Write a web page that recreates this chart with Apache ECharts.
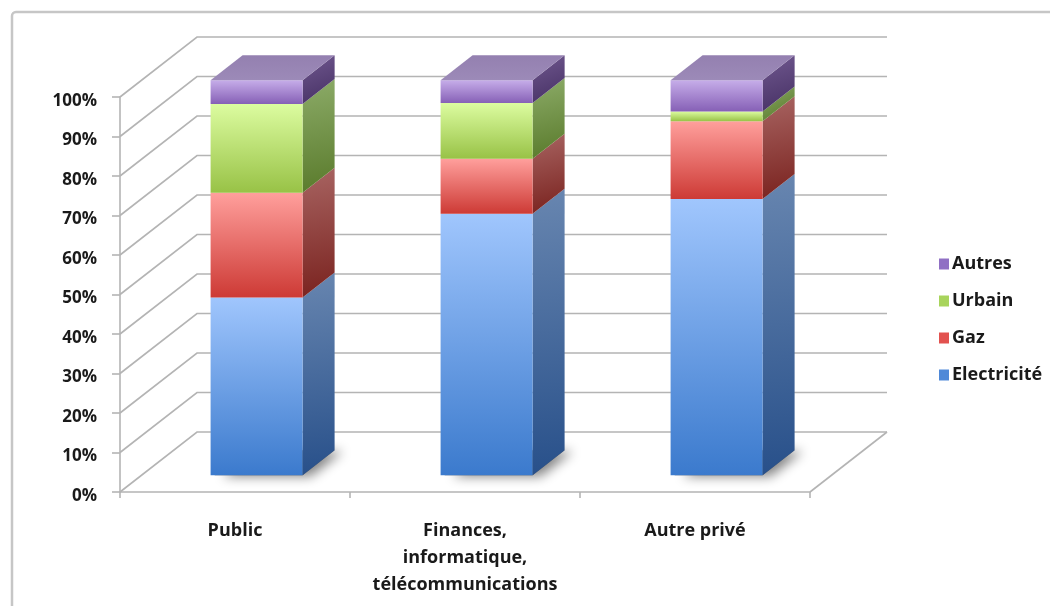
<!DOCTYPE html>
<html>
<head>
<meta charset="utf-8">
<script src="https://cdn.jsdelivr.net/npm/echarts@6/dist/echarts.min.js"></script>
<style>
  html, body { margin: 0; padding: 0; background: #ffffff; }
  #chart { width: 1050px; height: 606px; }
</style>
</head>
<body>
<div id="chart"></div>
<script>
// Energy mix by sector (shares in %)
const categories = ['Public', 'Finances,\ninformatique,\ntélécommunications', 'Autre privé'];
const electricite = [45.0, 66.2, 69.9];
const gaz = [26.5, 13.9, 19.7];
const urbain = [22.5, 14.1, 2.5];
const autres = [6.0, 5.8, 7.9];
const yTicks = [0, 10, 20, 30, 40, 50, 60, 70, 80, 90, 100];

const seriesNames = ['Electricité', 'Gaz', 'Urbain', 'Autres'];
const seriesValues = [electricite, gaz, urbain, autres];

// 3D look: depth of the back wall, offset of the bar front, bar depth
const WALL = [77, -60];
const BAR_OFF = [21.6, -16.8];
const BAR_DEPTH = [32, -25];
const BAR_RATIO = 0.4;

const palette = {
  'Electricité': { legend: '#4f89d8', front: ['#a0c6fd', '#3b7acd'], side: ['#6886b0', '#28508a'] },
  'Gaz':         { legend: '#e2524f', front: ['#ff9f9c', '#cd3a35'], side: ['#a86462', '#7a231f'] },
  'Urbain':      { legend: '#a8d45c', front: ['#dcfca0', '#98c246'], side: ['#8cab68', '#5a7b2c'] },
  'Autres':      { legend: '#9070c4', front: ['#c6ade9', '#8660b6'], side: ['#70588f', '#483266'] }
};

function grad(c) {
  return new echarts.graphic.LinearGradient(0, 0, 0, 1, [
    { offset: 0, color: c[0] }, { offset: 1, color: c[1] }
  ]);
}
function sideGrad(c) {
  return new echarts.graphic.LinearGradient(0, 0, 0.6, 1, [
    { offset: 0, color: c[0] }, { offset: 1, color: c[1] }
  ]);
}

// stacked segments [categoryIndex, low, high]
const stacked = seriesValues.map(() => []);
categories.forEach((c, i) => {
  let base = 0;
  seriesValues.forEach((vals, s) => {
    stacked[s].push([i, base, base + vals[i]]);
    base += vals[i];
  });
});

function topIndex(i) {
  let t = 0;
  seriesValues.forEach((vals, s) => { if (vals[i] > 0) t = s; });
  return t;
}

function makeBarRender(sIdx) {
  const name = seriesNames[sIdx];
  const col = palette[name];
  return function (params, api) {
    const cat = api.value(0), lo = api.value(1), hi = api.value(2);
    const pLo = api.coord([cat, lo]);
    const pHi = api.coord([cat, hi]);
    const band = api.size([1, 0])[0];
    const w = band * BAR_RATIO;
    const x0 = pLo[0] - w / 2 + BAR_OFF[0];
    const x1 = x0 + w;
    const yLo = pLo[1] + BAR_OFF[1];
    const yHi = pHi[1] + BAR_OFF[1];
    const dx = BAR_DEPTH[0], dy = BAR_DEPTH[1];
    const children = [];
    if (sIdx === 0) {
      // soft floor shadow under the bar
      children.push({
        type: 'polygon',
        shape: { points: [[x0 + 4, yLo], [x1, yLo], [x1 + dx, yLo + dy], [x0 + dx, yLo + dy]] },
        style: { fill: 'rgba(90,90,90,0.9)', shadowBlur: 12, shadowOffsetX: 8, shadowOffsetY: 1, shadowColor: 'rgba(0,0,0,0.55)' },
        z2: 0
      });
    }
    children.push({
      type: 'polygon',
      shape: { points: [[x1, yLo], [x1, yHi], [x1 + dx, yHi + dy], [x1 + dx, yLo + dy]] },
      style: { fill: sideGrad(col.side) },
      z2: 1
    });
    children.push({
      type: 'rect',
      shape: { x: x0, y: yHi, width: w, height: yLo - yHi },
      style: { fill: grad(col.front) },
      z2: 2
    });
    if (topIndex(cat) === sIdx) {
      children.push({
        type: 'polygon',
        shape: { points: [[x0, yHi], [x1, yHi], [x1 + dx, yHi + dy], [x0 + dx, yHi + dy]] },
        style: { fill: new echarts.graphic.LinearGradient(0, 1, 0, 0, [
          { offset: 0, color: '#9c8ab8' }, { offset: 1, color: '#9480b0' }
        ]) },
        z2: 3
      });
    }
    return { type: 'group', children: children };
  };
}

// back wall, side wall lines and floor
function renderWalls(params, api) {
  const cs = params.coordSys;
  const left = cs.x, right = cs.x + cs.width;
  const children = [];
  const lineStyle = { stroke: '#b4b4b4', lineWidth: 1.6, fill: null };
  yTicks.forEach(v => {
    const y = api.coord([0, v])[1];
    children.push({
      type: 'polyline',
      shape: { points: [[left, y], [left + WALL[0], y + WALL[1]], [right + WALL[0], y + WALL[1]]] },
      style: lineStyle
    });
  });
  const y0 = api.coord([0, yTicks[0]])[1];
  children.push({
    type: 'line',
    shape: { x1: right, y1: y0, x2: right + WALL[0], y2: y0 + WALL[1] },
    style: lineStyle
  });
  return { type: 'group', children: children };
}

const chart = echarts.init(document.getElementById('chart'), null, { renderer: 'canvas' });

const series = [{
  type: 'custom',
  name: 'walls',
  silent: true,
  z: 1,
  data: [[0, 0]],
  renderItem: renderWalls,
  clip: false
}];
seriesNames.forEach((name, s) => {
  series.push({
    type: 'custom',
    name: name,
    z: 5 + s,
    itemStyle: { color: palette[name].legend },
    encode: { x: 0, y: [1, 2] },
    data: stacked[s],
    renderItem: makeBarRender(s),
    clip: false
  });
});

chart.setOption({
  animation: false,
  backgroundColor: '#ffffff',
  textStyle: { fontFamily: 'Open Sans' },
  graphic: [{
    type: 'rect',
    shape: { x: 12, y: 12, width: 1200, height: 800, r: 4 },
    style: { fill: null, stroke: '#c6c6c6', lineWidth: 2.5 },
    silent: true
  }],
  grid: { left: 120, top: 97, width: 690, height: 395 },
  legend: {
    orient: 'vertical',
    left: 934,
    top: 248,
    data: ['Autres', 'Urbain', 'Gaz', 'Electricité'],
    icon: 'rect',
    itemWidth: 10,
    itemHeight: 11,
    itemGap: 15,
    textStyle: { fontFamily: 'Open Sans', fontWeight: 'bold', fontSize: 18, color: '#1a1a1a', lineHeight: 22, padding: [0, 0, 0, -2] }
  },
  xAxis: {
    type: 'category',
    data: categories,
    axisLine: { show: true, lineStyle: { color: '#b4b4b4', width: 1.6 } },
    axisTick: { show: true, length: 6, lineStyle: { color: '#b4b4b4', width: 1.6 } },
    axisLabel: { interval: 0, margin: 25, fontFamily: 'Open Sans', fontWeight: 'bold', fontSize: 18, lineHeight: 27, color: '#1a1a1a' },
    splitLine: { show: false }
  },
  yAxis: {
    type: 'value',
    min: 0,
    max: 100,
    interval: 10,
    axisLine: { show: true, lineStyle: { color: '#b4b4b4', width: 1.6 } },
    axisTick: { show: true, length: 8, lineStyle: { color: '#b4b4b4', width: 1.6 } },
    axisLabel: { margin: 23, verticalAlign: 'top', lineHeight: 8, formatter: '{value}%', fontFamily: 'Open Sans', fontWeight: 'bold', fontSize: 17, color: '#1a1a1a' },
    splitLine: { show: false }
  },
  series: series
});
</script>
</body>
</html>
